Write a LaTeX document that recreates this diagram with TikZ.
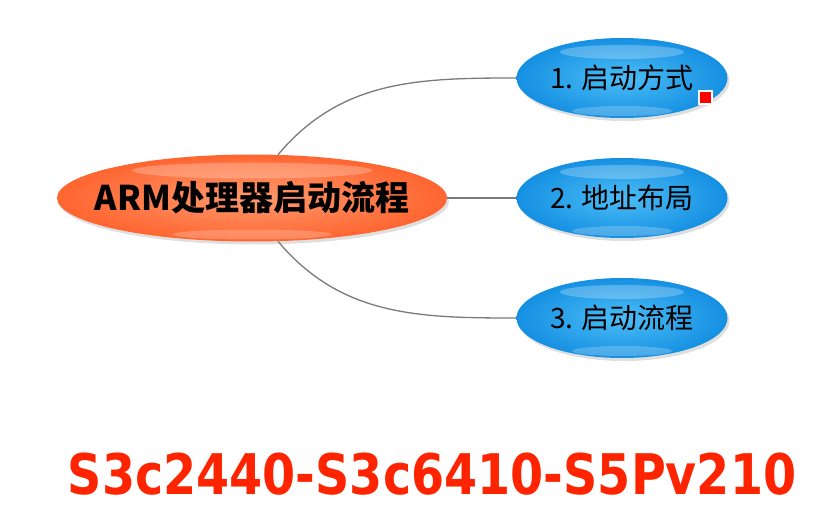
\documentclass[tikz,border=0pt]{standalone}
\usepackage{fontspec}
\newfontfamily\cjkfont{Noto Sans CJK SC}
\newfontfamily\chipfont{DejaVu Sans}
\usepackage{tikz}
\usetikzlibrary{shapes.geometric,shadows}

\definecolor{topicdark}{HTML}{FF6530}
\definecolor{topiclight}{HTML}{FF9A6E}
\definecolor{branchdark}{HTML}{1590E2}
\definecolor{branchlight}{HTML}{4CBDF6}
\definecolor{linkgrey}{HTML}{7A7A7A}
\definecolor{chipred}{HTML}{FF2400}

\tikzset{
  topic/.style={ellipse, minimum width=390pt, minimum height=87pt, inner sep=0pt,
    inner color=topiclight, outer color=topicdark,
    drop shadow={opacity=0.25, shadow xshift=2pt, shadow yshift=-3pt},
    path picture={
      \fill[white, fill opacity=0.25] ([yshift=-16pt]path picture bounding box.north) ellipse [x radius=120pt, y radius=8pt];
      \fill[white, fill opacity=0.22] ([yshift=7pt]path picture bounding box.south) ellipse [x radius=80pt, y radius=5pt];
    }},
  branch/.style={ellipse, minimum width=211pt, minimum height=80pt, inner sep=0pt,
    inner color=branchlight, outer color=branchdark,
    drop shadow={opacity=0.25, shadow xshift=2pt, shadow yshift=-3pt},
    path picture={
      \fill[white, fill opacity=0.25] ([yshift=-14pt]path picture bounding box.north) ellipse [x radius=62pt, y radius=7pt];
      \fill[white, fill opacity=0.22] ([yshift=7pt]path picture bounding box.south) ellipse [x radius=50pt, y radius=5pt];
    }},
  topictext/.style={font=\cjkfont\bfseries\fontsize{34pt}{34pt}\selectfont},
  branchtext/.style={font=\cjkfont\fontsize{28pt}{28pt}\selectfont},
  link/.style={draw=linkgrey, line width=1.3pt}
}

\begin{document}
\begin{tikzpicture}[x=1pt, y=1pt]
	\useasboundingbox (0,0) rectangle (838,507);
	\node [topic, label={[topictext]center:ARM处理器启动流程}] (arm) at (252,309) {};
	\node [branch, label={[branchtext]center:1. 启动方式}] (way) at (622,429) {};
	\node [branch, label={[branchtext]center:2. 地址布局}] (addr) at (622,309) {};
	\node [branch, label={[branchtext]center:3. 启动流程}] (flow) at (622,189) {};
	% small red marker on the first branch
	\node [fill=red, draw=white, line width=2pt, minimum size=13pt, inner sep=0pt] (cursor) at (705,409) {};
	%
	\draw [link] (arm.59) to[out=50, in=180] (way.west);
	\draw [link] (arm.east) -- (addr.west);
	\draw [link] (arm.-59) to[out=-50, in=180] (flow.west);
	%
	\node [text=chipred, font=\chipfont\bfseries\fontsize{56pt}{56pt}\selectfont] (chips) at (432,33)
		{\scalebox{0.85}[1]{S3c2440-S3c6410-S5Pv210}};
\end{tikzpicture}
\end{document}
